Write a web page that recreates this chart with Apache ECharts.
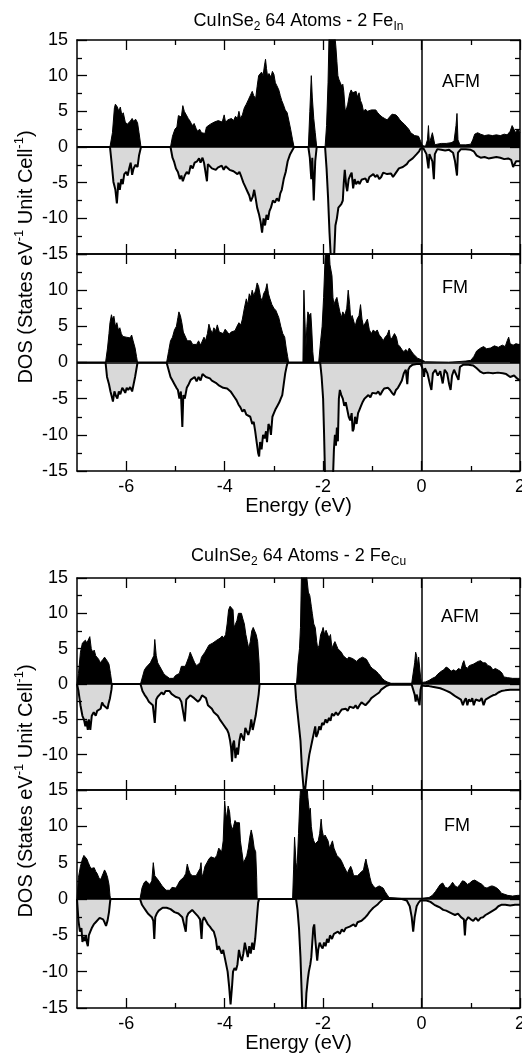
<!DOCTYPE html>
<html>
<head>
<meta charset="utf-8">
<script src="https://cdn.jsdelivr.net/npm/echarts@6/dist/echarts.min.js"></script>
<style>
html,body{margin:0;padding:0;background:#fff;}
#chart{width:522px;height:1057px;}
</style>
</head>
<body>
<div id="chart"></div>
<script>
// ---------- data: [energy (eV), DOS] ----------
var xMajorTicks = [-6, -4, -2, 0, 2];
var xMinorTicks = [-5, -3, -1, 1];
var panelLabels = ['AFM', 'FM', 'AFM', 'FM'];

var inUpAFM = [[-7,0],[-6.33,0],[-6.28,2],[-6.24,5.5],[-6.22,6.0],[-6.18,5.6],[-6.15,5.0],[-6.12,5.6],[-6.09,4.5],[-6.06,4.8],[-6.02,3.5],[-5.98,3.2],[-5.95,3.0],[-5.92,3.6],[-5.88,4.0],[-5.85,3.6],[-5.81,3.9],[-5.77,3.4],[-5.74,2.0],[-5.70,0],
[-5.10,0],[-5.06,1.5],[-5.01,2.5],[-4.97,2.8],[-4.94,4.4],[-4.91,4.6],[-4.88,4.2],[-4.85,5.8],[-4.82,5.0],[-4.78,4.8],[-4.74,4.0],[-4.70,3.6],[-4.66,3.0],[-4.62,3.3],[-4.58,2.6],[-4.55,2.2],[-4.51,2.5],[-4.47,2.0],[-4.44,2.2],[-4.40,1.9],[-4.37,2.8],[-4.33,3.0],[-4.29,3.2],[-4.25,3.4],[-4.21,3.5],[-4.17,3.3],[-4.13,3.7],[-4.09,3.6],[-4.05,3.5],[-4.01,4.5],[-3.98,3.4],[-3.94,3.8],[-3.90,3.6],[-3.86,4.0],[-3.82,3.7],[-3.78,4.3],[-3.74,4.0],[-3.71,5.0],[-3.68,4.0],[-3.64,4.5],[-3.60,5.5],[-3.56,6.0],[-3.52,6.6],[-3.48,7.2],[-3.44,7.8],[-3.41,7.2],[-3.37,6.8],[-3.34,8.5],[-3.31,10.0],[-3.28,9.8],[-3.25,10.5],[-3.22,10.0],[-3.19,11.5],[-3.17,12.3],[-3.15,11.0],[-3.13,10.0],[-3.10,10.3],[-3.06,9.8],[-3.03,10.6],[-3.00,10.2],[-2.97,9.0],[-2.94,8.6],[-2.90,8.0],[-2.87,7.2],[-2.84,6.5],[-2.81,6.0],[-2.77,5.2],[-2.73,4.8],[-2.69,3.5],[-2.66,2.5],[-2.62,1.0],[-2.59,0],
[-2.30,0],[-2.27,5],[-2.24,10.0],[-2.22,7],[-2.19,4.0],[-2.16,2.0],[-2.13,0],
[-1.96,0],[-1.93,3],[-1.90,9],[-1.88,15.5],[-1.80,17],[-1.76,15.5],[-1.74,14.0],[-1.72,12],[-1.70,10.0],[-1.68,9.5],[-1.65,9.0],[-1.62,8.5],[-1.60,8.8],[-1.58,7.8],[-1.55,5.0],[-1.52,5.5],[-1.50,6.0],[-1.46,7.5],[-1.43,8.0],[-1.40,7.6],[-1.36,7.4],[-1.33,7.8],[-1.30,7.0],[-1.27,7.6],[-1.24,6.5],[-1.21,6.0],[-1.18,5.0],[-1.14,5.3],[-1.10,5.0],[-1.06,4.9],[-1.02,5.2],[-0.98,5.0],[-0.93,5.2],[-0.89,4.8],[-0.85,4.5],[-0.80,4.2],[-0.75,4.0],[-0.70,3.8],[-0.65,4.2],[-0.60,4.6],[-0.56,4.8],[-0.52,4.5],[-0.48,4.2],[-0.44,3.8],[-0.40,3.5],[-0.35,3.2],[-0.30,2.8],[-0.26,2.5],[-0.22,2.0],[-0.18,1.8],[-0.14,1.6],[-0.10,1.8],[-0.06,1.5],[-0.02,0.8],[0.02,0.2],[0.08,0.1],[0.12,1.0],[0.14,3.0],[0.16,0.5],[0.19,0.3],[0.22,2.0],[0.25,1.8],[0.27,0.3],[0.32,0.4],[0.40,0.5],[0.50,0.5],[0.60,0.6],[0.66,0.8],[0.70,3.0],[0.72,4.7],[0.74,1.0],[0.78,0.3],[0.90,0.3],[1.00,0.4],[1.04,1.0],[1.08,1.8],[1.14,2.0],[1.20,1.8],[1.28,1.6],[1.36,1.7],[1.44,1.6],[1.52,1.7],[1.60,1.6],[1.68,1.8],[1.74,1.7],[1.80,2.2],[1.84,3.0],[1.87,2.6],[1.91,2.0],[1.95,2.5],[2.0,2.0]];

var inDnAFM = [[-7,0],[-6.33,0],[-6.30,-2],[-6.26,-4.9],[-6.22,-6],[-6.19,-7.9],[-6.16,-5.0],[-6.13,-6.0],[-6.10,-4.5],[-6.07,-5.2],[-6.04,-3.8],[-6.00,-3.5],[-5.97,-4.0],[-5.94,-3.0],[-5.91,-2.2],[-5.88,-3.9],[-5.85,-3.0],[-5.81,-2.5],[-5.77,-2.8],[-5.74,-1.2],[-5.70,0],
[-5.10,0],[-5.06,-1.5],[-5.03,-2.0],[-4.99,-3.0],[-4.95,-3.5],[-4.91,-4.5],[-4.88,-4.0],[-4.85,-4.8],[-4.81,-4.0],[-4.77,-3.5],[-4.73,-3.8],[-4.69,-2.6],[-4.65,-3.0],[-4.61,-2.2],[-4.56,-2.0],[-4.52,-1.6],[-4.49,-2.2],[-4.45,-1.5],[-4.42,-2.2],[-4.38,-2.0],[-4.36,-4.8],[-4.34,-2.4],[-4.30,-2.6],[-4.26,-3.0],[-4.22,-2.8],[-4.18,-3.2],[-4.14,-2.9],[-4.10,-3.0],[-4.06,-2.6],[-4.02,-3.2],[-3.98,-2.7],[-3.94,-2.8],[-3.90,-3.2],[-3.86,-3.0],[-3.82,-3.4],[-3.78,-3.2],[-3.74,-3.8],[-3.70,-3.5],[-3.66,-4.2],[-3.62,-5.0],[-3.58,-5.6],[-3.54,-6.2],[-3.50,-6.8],[-3.47,-7.6],[-3.43,-7.0],[-3.40,-6.0],[-3.37,-7.2],[-3.34,-8.5],[-3.30,-9.5],[-3.27,-10.5],[-3.24,-12.0],[-3.21,-10.0],[-3.18,-11.0],[-3.15,-9.5],[-3.12,-10.2],[-3.09,-9.0],[-3.06,-8.5],[-3.02,-7.5],[-2.98,-7.8],[-2.94,-7.2],[-2.90,-7.6],[-2.87,-6.5],[-2.84,-6.0],[-2.80,-4.5],[-2.76,-3.5],[-2.72,-2.0],[-2.67,-1.0],[-2.62,-0.4],[-2.59,0],
[-2.30,0],[-2.27,-1.5],[-2.24,-4.5],[-2.22,-1.5],[-2.19,-7.5],[-2.16,-2.0],[-2.13,0],
[-1.96,0],[-1.93,-3.0],[-1.90,-7.0],[-1.87,-12],[-1.84,-16],[-1.78,-16],[-1.75,-11],[-1.72,-10.0],[-1.69,-8.5],[-1.66,-8.6],[-1.63,-8.0],[-1.60,-7.5],[-1.58,-5.0],[-1.56,-3.2],[-1.53,-5.5],[-1.51,-6.2],[-1.48,-4.5],[-1.45,-4.0],[-1.42,-3.6],[-1.39,-5.8],[-1.36,-4.5],[-1.33,-5.2],[-1.29,-4.8],[-1.26,-5.2],[-1.22,-4.6],[-1.18,-4.8],[-1.14,-4.4],[-1.10,-5.0],[-1.06,-4.2],[-1.02,-4.0],[-0.98,-3.8],[-0.94,-4.2],[-0.90,-3.9],[-0.86,-4.5],[-0.82,-4.2],[-0.78,-3.6],[-0.74,-3.5],[-0.70,-3.8],[-0.66,-3.6],[-0.62,-3.7],[-0.58,-4.2],[-0.54,-3.8],[-0.50,-3.6],[-0.46,-3.0],[-0.42,-3.2],[-0.38,-2.8],[-0.34,-2.6],[-0.30,-2.4],[-0.26,-2.0],[-0.22,-1.8],[-0.18,-1.6],[-0.14,-1.4],[-0.10,-1.0],[-0.05,-0.6],[-0.02,-0.2],[0.04,-0.2],[0.10,-1.0],[0.14,-3.0],[0.16,-1.0],[0.19,-0.8],[0.22,-2.0],[0.25,-4.5],[0.27,-1.0],[0.32,-0.3],[0.40,-0.4],[0.48,-0.5],[0.56,-0.4],[0.64,-0.8],[0.68,-2.0],[0.72,-4.0],[0.74,-0.8],[0.80,-0.3],[0.90,-0.3],[1.00,-0.4],[1.06,-0.6],[1.12,-1.2],[1.20,-1.5],[1.28,-1.4],[1.36,-1.6],[1.44,-1.5],[1.52,-1.4],[1.60,-1.5],[1.68,-1.7],[1.76,-1.6],[1.82,-1.8],[1.86,-2.8],[1.88,-3.0],[1.92,-2.0],[1.96,-2.2],[2.0,-2.0]];

var inUpFM = [[-7,0],[-6.42,0],[-6.38,2.0],[-6.35,4.0],[-6.33,5.5],[-6.30,6.6],[-6.28,6.0],[-6.25,6.4],[-6.22,5.0],[-6.19,5.5],[-6.16,4.5],[-6.13,4.8],[-6.10,4.0],[-6.07,3.6],[-6.04,3.8],[-6.00,3.5],[-5.96,3.6],[-5.92,3.4],[-5.89,3.8],[-5.86,3.0],[-5.82,2.0],[-5.79,0.8],[-5.77,0],
[-5.18,0],[-5.14,1.5],[-5.10,3.0],[-5.06,3.5],[-5.02,4.5],[-4.98,5.0],[-4.95,6.2],[-4.93,7.0],[-4.90,6.5],[-4.87,5.5],[-4.84,4.2],[-4.80,4.0],[-4.76,3.0],[-4.72,3.2],[-4.69,3.0],[-4.65,2.5],[-4.61,2.6],[-4.57,2.5],[-4.53,3.0],[-4.49,2.4],[-4.45,2.6],[-4.42,3.5],[-4.39,3.0],[-4.35,4.0],[-4.32,5.3],[-4.29,4.6],[-4.25,4.0],[-4.22,4.8],[-4.18,4.4],[-4.15,5.2],[-4.11,4.2],[-4.07,4.4],[-4.03,4.0],[-3.99,4.6],[-3.95,4.5],[-3.91,3.9],[-3.87,4.2],[-3.83,4.0],[-3.79,4.4],[-3.75,5.0],[-3.71,5.5],[-3.67,5.2],[-3.64,6.0],[-3.60,7.5],[-3.56,8.8],[-3.53,8.0],[-3.50,9.5],[-3.47,9.0],[-3.44,10.0],[-3.41,9.2],[-3.37,10.0],[-3.34,11.0],[-3.31,10.5],[-3.27,9.0],[-3.24,8.5],[-3.21,9.5],[-3.17,10.0],[-3.14,10.9],[-3.11,9.5],[-3.08,8.8],[-3.04,8.0],[-3.00,7.5],[-2.96,7.2],[-2.93,7.0],[-2.90,6.2],[-2.86,5.0],[-2.82,4.0],[-2.78,3.5],[-2.75,2.0],[-2.72,0.8],[-2.70,0],
[-2.41,0],[-2.40,6],[-2.39,10.0],[-2.37,6],[-2.35,2.0],[-2.33,5.0],[-2.31,7.0],[-2.28,6.5],[-2.25,6.8],[-2.23,4.5],[-2.21,1.5],[-2.19,0],
[-2.09,0],[-2.05,3.0],[-2.02,5.0],[-1.99,9.0],[-1.96,14.5],[-1.94,16],[-1.88,16],[-1.86,13.5],[-1.82,12.0],[-1.80,9.0],[-1.78,8.0],[-1.75,8.6],[-1.72,9.0],[-1.69,8.0],[-1.66,7.0],[-1.63,6.2],[-1.60,7.0],[-1.56,6.5],[-1.52,7.5],[-1.49,10.0],[-1.46,8.0],[-1.44,6.0],[-1.41,6.5],[-1.38,6.5],[-1.35,5.0],[-1.31,6.0],[-1.27,6.5],[-1.24,8.0],[-1.21,6.0],[-1.18,5.0],[-1.14,5.5],[-1.10,6.0],[-1.06,4.5],[-1.02,4.0],[-0.98,4.5],[-0.94,4.2],[-0.90,4.5],[-0.86,3.8],[-0.82,3.5],[-0.78,3.0],[-0.74,3.5],[-0.70,3.8],[-0.66,4.5],[-0.63,3.2],[-0.59,3.5],[-0.55,4.0],[-0.51,3.5],[-0.48,2.5],[-0.44,2.2],[-0.40,1.8],[-0.36,1.5],[-0.32,1.8],[-0.28,1.5],[-0.25,2.0],[-0.21,1.8],[-0.17,1.2],[-0.13,1.0],[-0.08,0.6],[-0.04,0.4],[0.02,0.3],[0.08,0.1],[0.12,0.05],[0.55,0.05],[0.70,0.1],[0.90,0.2],[1.00,0.3],[1.06,0.8],[1.12,1.6],[1.20,2.0],[1.26,2.2],[1.32,1.9],[1.40,2.0],[1.48,2.3],[1.56,2.1],[1.64,2.4],[1.70,2.2],[1.74,3.0],[1.77,3.5],[1.80,2.6],[1.86,2.4],[1.92,2.6],[2.0,2.4]];

var inDnFM = [[-7,0],[-6.42,0],[-6.39,-2.0],[-6.35,-3.0],[-6.32,-4.0],[-6.29,-4.8],[-6.27,-5.4],[-6.24,-4.0],[-6.21,-4.6],[-6.18,-5.0],[-6.15,-4.0],[-6.12,-4.4],[-6.08,-3.5],[-6.05,-3.8],[-6.02,-4.2],[-5.99,-3.5],[-5.96,-3.8],[-5.92,-3.4],[-5.88,-4.0],[-5.85,-3.0],[-5.82,-2.0],[-5.79,-0.8],[-5.77,0],
[-5.18,0],[-5.14,-1.0],[-5.10,-2.0],[-5.06,-2.5],[-5.02,-3.0],[-4.98,-3.5],[-4.95,-3.8],[-4.92,-5.0],[-4.89,-4.0],[-4.86,-8.9],[-4.84,-4.5],[-4.81,-5.0],[-4.77,-3.5],[-4.73,-3.0],[-4.69,-2.4],[-4.65,-2.2],[-4.61,-2.0],[-4.57,-2.6],[-4.53,-2.0],[-4.49,-2.5],[-4.45,-1.6],[-4.42,-1.5],[-4.38,-2.0],[-4.34,-1.8],[-4.30,-2.2],[-4.26,-2.5],[-4.22,-2.6],[-4.18,-2.8],[-4.15,-3.0],[-4.11,-3.2],[-4.07,-3.0],[-4.03,-3.5],[-3.99,-3.3],[-3.95,-3.6],[-3.91,-3.8],[-3.88,-4.0],[-3.84,-4.2],[-3.80,-4.8],[-3.76,-5.2],[-3.72,-5.8],[-3.68,-6.2],[-3.64,-6.8],[-3.60,-6.5],[-3.56,-7.2],[-3.52,-7.0],[-3.48,-7.5],[-3.44,-8.5],[-3.41,-8.2],[-3.38,-9.5],[-3.35,-11.0],[-3.32,-12.5],[-3.30,-13.0],[-3.28,-11.0],[-3.25,-12.0],[-3.22,-10.0],[-3.19,-10.5],[-3.16,-9.5],[-3.14,-11.0],[-3.11,-8.5],[-3.08,-9.0],[-3.06,-10.0],[-3.03,-7.5],[-3.00,-7.0],[-2.97,-6.5],[-2.93,-6.0],[-2.89,-5.5],[-2.86,-5.0],[-2.83,-4.5],[-2.80,-3.0],[-2.77,-1.5],[-2.74,-0.5],[-2.72,0],
[-2.06,0],[-2.03,-2],[-2.00,-5],[-1.98,-10],[-1.96,-16],[-1.80,-16],[-1.78,-12.0],[-1.76,-10.0],[-1.74,-11.5],[-1.72,-9],[-1.70,-10.9],[-1.68,-5.0],[-1.66,-3.8],[-1.63,-4.5],[-1.60,-5.0],[-1.57,-6.0],[-1.54,-5.5],[-1.51,-6.5],[-1.48,-7.5],[-1.45,-8.0],[-1.42,-7.0],[-1.40,-9.5],[-1.38,-9.2],[-1.35,-7.5],[-1.32,-8.5],[-1.29,-7.0],[-1.26,-6.5],[-1.23,-6.0],[-1.20,-5.5],[-1.16,-5.0],[-1.12,-4.8],[-1.08,-4.5],[-1.04,-4.8],[-1.00,-4.2],[-0.96,-4.0],[-0.92,-4.3],[-0.88,-4.0],[-0.84,-4.5],[-0.80,-4.0],[-0.76,-3.6],[-0.72,-3.8],[-0.68,-3.5],[-0.64,-3.8],[-0.60,-4.2],[-0.56,-4.5],[-0.52,-3.8],[-0.48,-3.5],[-0.44,-3.0],[-0.40,-2.5],[-0.36,-1.5],[-0.32,-1.0],[-0.29,-3.0],[-0.27,-1.0],[-0.24,-0.6],[-0.18,-0.3],[-0.10,-0.2],[-0.02,-0.2],[0.03,-1.0],[0.05,-2.0],[0.07,-0.8],[0.12,-1.5],[0.17,-3.0],[0.20,-3.8],[0.23,-1.5],[0.28,-1.0],[0.33,-1.8],[0.38,-1.2],[0.43,-2.9],[0.47,-1.0],[0.52,-1.5],[0.56,-3.0],[0.59,-3.8],[0.62,-1.8],[0.66,-1.0],[0.70,-1.2],[0.75,-2.4],[0.78,-0.6],[0.85,-0.3],[0.95,-0.3],[1.05,-0.4],[1.12,-0.8],[1.20,-1.3],[1.26,-1.5],[1.35,-1.4],[1.45,-1.5],[1.55,-1.4],[1.65,-1.5],[1.72,-1.6],[1.80,-2.0],[1.88,-1.8],[1.94,-2.2],[2.0,-2.5]];

var cuUpAFM = [[-7,0],[-6.97,1.5],[-6.93,4.5],[-6.89,5.8],[-6.86,5.6],[-6.83,6.2],[-6.80,5.8],[-6.77,6.0],[-6.74,6.7],[-6.71,5.0],[-6.68,4.5],[-6.65,4.8],[-6.62,4.0],[-6.59,4.2],[-6.56,3.5],[-6.53,3.0],[-6.50,3.2],[-6.47,3.5],[-6.44,3.8],[-6.41,3.6],[-6.38,3.2],[-6.35,2.8],[-6.32,1.5],[-6.29,0],
[-5.71,0],[-5.67,1.0],[-5.63,2.0],[-5.59,2.4],[-5.55,2.6],[-5.51,3.0],[-5.47,2.8],[-5.44,4.0],[-5.42,6.3],[-5.39,4.0],[-5.36,3.0],[-5.32,2.5],[-5.28,2.0],[-5.24,1.5],[-5.20,1.2],[-5.16,1.0],[-5.12,0.8],[-5.08,0.9],[-5.04,0.8],[-5.00,1.2],[-4.96,1.0],[-4.92,1.5],[-4.88,2.5],[-4.84,2.6],[-4.80,2.5],[-4.76,2.4],[-4.73,3.8],[-4.70,4.5],[-4.67,4.7],[-4.64,3.5],[-4.61,3.0],[-4.57,2.6],[-4.53,2.5],[-4.50,3.0],[-4.47,3.8],[-4.44,4.0],[-4.40,4.5],[-4.36,5.0],[-4.32,5.5],[-4.28,5.6],[-4.24,5.8],[-4.20,6.0],[-4.16,6.2],[-4.12,6.0],[-4.09,6.5],[-4.05,6.8],[-4.02,6.5],[-3.98,7.0],[-3.95,8.5],[-3.92,10.5],[-3.89,11.0],[-3.86,10.8],[-3.83,10.5],[-3.81,8.0],[-3.78,8.5],[-3.75,9.0],[-3.72,10.0],[-3.69,9.8],[-3.66,10.0],[-3.63,9.2],[-3.60,8.5],[-3.57,7.0],[-3.54,6.0],[-3.51,5.0],[-3.48,6.0],[-3.45,7.5],[-3.42,8.0],[-3.39,7.5],[-3.36,7.0],[-3.33,6.0],[-3.30,3.0],[-3.29,0],
[-2.54,0],[-2.51,3.0],[-2.48,5.0],[-2.46,8],[-2.44,15.5],[-2.38,16],[-2.33,15.0],[-2.30,13.0],[-2.27,12.5],[-2.24,11.0],[-2.22,10.0],[-2.19,8.5],[-2.16,8.0],[-2.13,6.0],[-2.11,5.0],[-2.08,5.5],[-2.05,7.0],[-2.02,7.5],[-2.00,8.0],[-1.97,7.0],[-1.94,7.6],[-1.91,7.5],[-1.88,6.5],[-1.85,7.0],[-1.82,5.0],[-1.79,5.6],[-1.76,6.0],[-1.73,5.5],[-1.70,5.0],[-1.67,5.2],[-1.63,4.5],[-1.59,4.0],[-1.55,4.2],[-1.51,3.5],[-1.48,3.8],[-1.44,4.0],[-1.40,3.6],[-1.36,3.5],[-1.32,3.2],[-1.28,3.5],[-1.24,3.6],[-1.20,3.8],[-1.16,3.6],[-1.12,3.5],[-1.08,3.0],[-1.04,2.5],[-1.00,2.2],[-0.96,2.0],[-0.92,1.8],[-0.88,1.5],[-0.84,1.2],[-0.80,0.8],[-0.75,0.5],[-0.70,0.3],[-0.62,0.1],[-0.55,0.1],[-0.40,0.1],[-0.20,0.1],[-0.16,0.3],[-0.14,3.0],[-0.12,4.5],[-0.10,4.0],[-0.08,2.5],[-0.06,3.8],[-0.04,4.0],[-0.02,1.0],[0.00,0.2],[0.08,0.3],[0.15,0.5],[0.22,0.8],[0.28,1.0],[0.33,1.4],[0.40,1.8],[0.45,2.0],[0.50,2.4],[0.55,2.2],[0.60,1.8],[0.65,2.0],[0.70,1.8],[0.75,2.2],[0.80,2.0],[0.84,3.0],[0.86,3.3],[0.89,2.5],[0.93,2.2],[0.97,2.6],[1.01,2.4],[1.05,2.8],[1.10,3.0],[1.15,3.2],[1.20,3.3],[1.25,3.0],[1.30,3.0],[1.35,2.6],[1.40,2.5],[1.45,2.0],[1.50,2.2],[1.54,2.0],[1.60,1.8],[1.64,1.5],[1.67,1.0],[1.75,0.9],[1.85,0.8],[1.95,0.8],[2.0,0.8]];

var cuDnAFM = [[-7,0],[-6.97,-1.0],[-6.93,-3.0],[-6.89,-4.5],[-6.86,-5.0],[-6.83,-6.0],[-6.81,-5.2],[-6.78,-6.5],[-6.76,-5.0],[-6.73,-6.5],[-6.70,-4.5],[-6.66,-4.0],[-6.62,-4.5],[-6.59,-3.8],[-6.55,-4.0],[-6.52,-3.5],[-6.49,-2.6],[-6.46,-3.0],[-6.42,-3.2],[-6.38,-3.5],[-6.36,-2.8],[-6.33,-2.0],[-6.30,-0.8],[-6.29,0],
[-5.71,0],[-5.67,-1.0],[-5.63,-1.5],[-5.58,-2.0],[-5.54,-2.5],[-5.50,-2.6],[-5.46,-3.0],[-5.42,-5.5],[-5.39,-2.2],[-5.36,-1.8],[-5.32,-1.5],[-5.28,-1.2],[-5.24,-1.5],[-5.20,-1.0],[-5.16,-1.2],[-5.12,-1.0],[-5.08,-1.4],[-5.04,-1.5],[-5.00,-1.8],[-4.96,-2.0],[-4.92,-2.0],[-4.88,-2.5],[-4.84,-2.5],[-4.81,-5.3],[-4.78,-2.2],[-4.74,-2.0],[-4.70,-1.6],[-4.66,-1.5],[-4.62,-2.0],[-4.58,-1.8],[-4.54,-2.5],[-4.50,-2.2],[-4.46,-1.6],[-4.42,-1.5],[-4.38,-2.0],[-4.34,-3.0],[-4.30,-3.2],[-4.26,-3.5],[-4.22,-4.0],[-4.18,-4.2],[-4.14,-4.5],[-4.10,-5.0],[-4.06,-5.2],[-4.02,-5.8],[-3.98,-6.2],[-3.95,-6.5],[-3.92,-7.0],[-3.89,-8.0],[-3.87,-9.0],[-3.85,-11.0],[-3.83,-8.5],[-3.81,-8.0],[-3.78,-10.5],[-3.75,-9.0],[-3.73,-10.0],[-3.70,-8.0],[-3.67,-7.0],[-3.64,-7.5],[-3.61,-8.0],[-3.58,-6.2],[-3.55,-6.0],[-3.52,-7.2],[-3.49,-6.5],[-3.46,-5.0],[-3.43,-6.5],[-3.40,-5.5],[-3.37,-4.5],[-3.34,-3.0],[-3.31,-1.5],[-3.29,0],
[-2.57,0],[-2.55,-2.0],[-2.52,-4.0],[-2.49,-6.0],[-2.46,-8.0],[-2.43,-12.0],[-2.40,-14.5],[-2.38,-16],[-2.35,-14.0],[-2.32,-12.0],[-2.30,-11.0],[-2.28,-10.0],[-2.25,-9.0],[-2.22,-8.0],[-2.19,-7.0],[-2.16,-6.0],[-2.14,-7.5],[-2.11,-7.0],[-2.08,-6.0],[-2.05,-6.5],[-2.02,-5.5],[-1.99,-5.8],[-1.95,-5.0],[-1.92,-5.5],[-1.88,-4.8],[-1.85,-5.2],[-1.82,-4.2],[-1.78,-4.5],[-1.74,-4.0],[-1.70,-4.4],[-1.66,-4.0],[-1.62,-3.6],[-1.58,-3.8],[-1.54,-3.5],[-1.50,-3.8],[-1.46,-3.2],[-1.42,-3.0],[-1.38,-3.4],[-1.34,-3.0],[-1.30,-3.5],[-1.26,-3.0],[-1.22,-2.6],[-1.18,-2.5],[-1.14,-3.0],[-1.10,-2.8],[-1.06,-2.4],[-1.02,-2.0],[-0.98,-1.8],[-0.94,-1.6],[-0.90,-1.4],[-0.86,-1.2],[-0.82,-0.8],[-0.78,-0.6],[-0.72,-0.3],[-0.65,-0.1],[-0.55,-0.1],[-0.40,-0.1],[-0.20,-0.1],[-0.16,-0.3],[-0.14,-1.5],[-0.12,-2.5],[-0.10,-1.5],[-0.08,-2.0],[-0.06,-2.5],[-0.04,-3.0],[-0.02,-0.8],[0.00,-0.2],[0.08,-0.3],[0.15,-0.3],[0.22,-0.4],[0.30,-0.5],[0.38,-0.6],[0.45,-0.8],[0.52,-1.0],[0.58,-1.2],[0.64,-1.5],[0.70,-1.8],[0.75,-2.0],[0.80,-2.2],[0.84,-3.0],[0.87,-2.4],[0.90,-2.0],[0.93,-3.0],[0.96,-2.2],[1.00,-2.5],[1.03,-2.0],[1.06,-3.0],[1.10,-2.2],[1.14,-2.0],[1.18,-2.4],[1.22,-2.0],[1.26,-3.0],[1.30,-2.2],[1.35,-2.0],[1.40,-1.8],[1.45,-1.6],[1.50,-1.5],[1.56,-1.2],[1.62,-1.0],[1.70,-0.9],[1.80,-0.8],[1.90,-0.8],[2.0,-0.8]];

var cuUpFM = [[-7,0],[-6.97,3.0],[-6.93,4.5],[-6.89,5.5],[-6.86,6.0],[-6.83,5.8],[-6.80,5.5],[-6.77,5.0],[-6.74,4.5],[-6.71,4.2],[-6.68,4.0],[-6.65,4.3],[-6.62,3.8],[-6.59,3.5],[-6.56,3.0],[-6.53,2.6],[-6.50,3.0],[-6.47,3.5],[-6.44,4.0],[-6.41,3.6],[-6.38,3.0],[-6.35,2.0],[-6.33,0.5],[-6.32,0],
[-5.72,0],[-5.68,1.5],[-5.64,2.2],[-5.60,2.5],[-5.56,2.4],[-5.52,2.0],[-5.48,2.5],[-5.45,5.0],[-5.42,3.2],[-5.39,3.0],[-5.35,2.6],[-5.31,2.4],[-5.27,1.8],[-5.23,1.5],[-5.19,1.2],[-5.15,1.3],[-5.11,1.2],[-5.07,1.6],[-5.03,1.8],[-4.99,1.5],[-4.95,2.0],[-4.91,2.5],[-4.87,2.6],[-4.83,3.0],[-4.79,3.5],[-4.76,4.8],[-4.73,4.0],[-4.70,3.5],[-4.66,3.2],[-4.62,3.0],[-4.58,3.2],[-4.54,3.0],[-4.50,4.2],[-4.48,5.0],[-4.46,3.0],[-4.43,3.6],[-4.40,4.5],[-4.36,5.0],[-4.32,5.5],[-4.28,5.8],[-4.24,6.0],[-4.20,5.6],[-4.16,6.0],[-4.12,7.0],[-4.09,6.8],[-4.06,6.5],[-4.03,8.0],[-4.00,13.5],[-3.98,12.0],[-3.96,11.0],[-3.93,12.8],[-3.90,12.0],[-3.88,10.5],[-3.85,9.5],[-3.82,10.0],[-3.79,10.8],[-3.76,10.5],[-3.73,10.7],[-3.70,10.5],[-3.68,8.0],[-3.65,6.5],[-3.62,5.0],[-3.58,5.5],[-3.55,6.0],[-3.52,7.0],[-3.49,8.5],[-3.46,9.5],[-3.43,8.5],[-3.40,7.0],[-3.37,6.5],[-3.35,3.0],[-3.34,0],
[-2.62,0],[-2.60,4.0],[-2.58,8.5],[-2.55,5.0],[-2.53,4.0],[-2.50,9.0],[-2.47,14.0],[-2.45,16],[-2.33,16],[-2.31,14.0],[-2.28,12.0],[-2.26,12.5],[-2.24,10.0],[-2.21,8.5],[-2.19,8.0],[-2.16,7.6],[-2.13,7.5],[-2.10,8.0],[-2.07,9.0],[-2.04,11.0],[-2.02,9.5],[-1.99,8.5],[-1.96,8.8],[-1.93,9.0],[-1.90,8.0],[-1.87,7.0],[-1.84,7.5],[-1.81,8.0],[-1.78,7.0],[-1.75,6.5],[-1.72,6.0],[-1.68,5.8],[-1.65,5.5],[-1.61,5.0],[-1.58,4.5],[-1.54,4.0],[-1.51,3.5],[-1.48,4.0],[-1.44,4.5],[-1.41,4.0],[-1.38,3.2],[-1.34,3.0],[-1.30,3.2],[-1.26,3.5],[-1.22,3.3],[-1.18,4.0],[-1.15,5.0],[-1.13,5.5],[-1.11,4.8],[-1.08,4.0],[-1.05,3.0],[-1.02,2.2],[-0.98,1.8],[-0.94,1.5],[-0.90,1.6],[-0.86,1.8],[-0.82,1.8],[-0.78,1.5],[-0.74,1.0],[-0.70,0.6],[-0.66,0.2],[-0.62,0.1],[-0.40,0.1],[0.0,0.1],[0.15,0.2],[0.22,0.5],[0.28,1.0],[0.33,1.5],[0.38,2.0],[0.43,2.2],[0.48,1.6],[0.53,1.5],[0.58,1.8],[0.63,2.3],[0.68,1.8],[0.73,1.6],[0.78,2.0],[0.83,2.5],[0.88,2.4],[0.93,2.0],[0.98,2.2],[1.03,2.5],[1.08,2.6],[1.13,2.4],[1.18,2.2],[1.23,2.0],[1.28,1.6],[1.33,1.5],[1.38,1.7],[1.43,1.8],[1.48,1.7],[1.53,1.5],[1.58,1.2],[1.62,0.8],[1.66,0.6],[1.75,0.5],[1.85,0.4],[1.95,0.5],[2.0,0.5]];

var cuDnFM = [[-7,0],[-6.97,-3.0],[-6.94,-4.5],[-6.91,-4.0],[-6.89,-5.9],[-6.86,-5.2],[-6.84,-5.8],[-6.82,-5.0],[-6.80,-6.0],[-6.78,-6.5],[-6.76,-5.0],[-6.73,-4.5],[-6.70,-4.0],[-6.66,-3.5],[-6.62,-3.2],[-6.58,-3.0],[-6.54,-2.6],[-6.50,-2.5],[-6.47,-2.8],[-6.44,-3.2],[-6.41,-3.7],[-6.38,-3.0],[-6.35,-1.8],[-6.33,-0.5],[-6.32,0],
[-5.72,0],[-5.68,-0.8],[-5.64,-1.2],[-5.60,-1.6],[-5.56,-2.0],[-5.52,-2.2],[-5.48,-2.5],[-5.45,-3.0],[-5.43,-5.5],[-5.41,-2.5],[-5.38,-2.0],[-5.34,-1.6],[-5.30,-1.5],[-5.26,-1.2],[-5.22,-1.0],[-5.18,-1.2],[-5.14,-1.0],[-5.10,-1.4],[-5.06,-1.5],[-5.02,-1.8],[-4.98,-1.6],[-4.94,-2.0],[-4.90,-2.2],[-4.86,-2.5],[-4.82,-2.4],[-4.79,-4.5],[-4.77,-2.5],[-4.74,-2.0],[-4.70,-1.8],[-4.66,-1.5],[-4.62,-1.8],[-4.58,-2.0],[-4.54,-2.4],[-4.50,-2.8],[-4.47,-5.5],[-4.45,-3.0],[-4.42,-2.5],[-4.38,-3.0],[-4.34,-3.5],[-4.30,-3.8],[-4.26,-4.2],[-4.22,-4.5],[-4.18,-5.5],[-4.15,-7.0],[-4.12,-6.5],[-4.09,-7.0],[-4.06,-7.5],[-4.03,-7.0],[-4.00,-8.0],[-3.97,-9.0],[-3.94,-10.0],[-3.91,-12.0],[-3.88,-14.5],[-3.85,-12.0],[-3.83,-10.0],[-3.80,-9.5],[-3.77,-9.8],[-3.74,-9.0],[-3.71,-7.0],[-3.68,-8.0],[-3.65,-8.5],[-3.62,-7.5],[-3.59,-6.0],[-3.56,-7.0],[-3.53,-8.0],[-3.50,-6.5],[-3.47,-7.5],[-3.44,-6.0],[-3.41,-7.0],[-3.38,-5.5],[-3.35,-3.0],[-3.32,-0.5],[-3.30,0],
[-2.55,0],[-2.52,-1.5],[-2.49,-4.0],[-2.46,-8.0],[-2.44,-12.0],[-2.42,-16],[-2.36,-16],[-2.34,-13.0],[-2.31,-11.0],[-2.29,-10.0],[-2.26,-9.0],[-2.24,-8.0],[-2.22,-6.0],[-2.20,-4.0],[-2.18,-3.5],[-2.16,-5.5],[-2.14,-7.0],[-2.12,-8.5],[-2.10,-7.0],[-2.07,-6.0],[-2.04,-6.5],[-2.01,-6.8],[-1.98,-6.0],[-1.95,-6.5],[-1.92,-5.5],[-1.89,-6.0],[-1.86,-5.0],[-1.82,-5.5],[-1.78,-4.8],[-1.74,-5.0],[-1.70,-4.5],[-1.66,-4.8],[-1.62,-4.2],[-1.58,-4.5],[-1.54,-4.0],[-1.50,-4.2],[-1.46,-3.8],[-1.42,-4.0],[-1.38,-3.5],[-1.34,-3.8],[-1.30,-3.2],[-1.26,-3.4],[-1.22,-3.0],[-1.18,-2.8],[-1.14,-2.5],[-1.10,-2.2],[-1.06,-1.8],[-1.02,-1.5],[-0.98,-1.2],[-0.94,-1.0],[-0.90,-0.8],[-0.86,-0.5],[-0.82,-0.3],[-0.78,0],[-0.40,0],[-0.30,-0.2],[-0.24,-1.0],[-0.20,-2.5],[-0.17,-4.5],[-0.14,-2.5],[-0.10,-1.0],[-0.06,-0.5],[-0.02,-0.2],[0.02,-0.1],[0.10,-0.2],[0.18,-0.4],[0.26,-0.8],[0.32,-1.0],[0.38,-1.2],[0.44,-1.5],[0.50,-1.6],[0.56,-1.8],[0.62,-2.0],[0.68,-2.2],[0.74,-2.0],[0.80,-2.5],[0.86,-2.8],[0.88,-5.0],[0.90,-3.0],[0.95,-2.5],[1.00,-2.8],[1.05,-3.0],[1.10,-2.6],[1.15,-3.0],[1.20,-2.6],[1.25,-2.5],[1.30,-2.2],[1.35,-2.0],[1.40,-1.8],[1.45,-1.6],[1.50,-1.4],[1.56,-1.0],[1.62,-0.8],[1.70,-0.8],[1.80,-0.9],[1.90,-0.8],[2.0,-0.8]];

var upSeries = [inUpAFM, inUpFM, cuUpAFM, cuUpFM];
var dnSeries = [inDnAFM, inDnFM, cuDnAFM, cuDnFM];

// ---------- layout ----------
var FONT = 'Liberation Sans, Arial, Helvetica, sans-serif';
var grids = [
  {left: 77, top: 40,  width: 443, height: 214, outerBoundsMode: 'none', containLabel: false},
  {left: 77, top: 254, width: 443, height: 217, outerBoundsMode: 'none', containLabel: false},
  {left: 77, top: 578, width: 443, height: 212, outerBoundsMode: 'none', containLabel: false},
  {left: 77, top: 790, width: 443, height: 218, outerBoundsMode: 'none', containLabel: false}
];
var showXLabels = [false, true, false, true];
var hideYLabel = [null, 15, -15, null];

var xAxes = [], yAxes = [], series = [];
var black = '#000';
grids.forEach(function (g, i) {
  ['bottom', 'top'].forEach(function (pos) {
    var isBottom = pos === 'bottom';
    xAxes.push({
      type: 'value', gridIndex: i, position: pos, min: -7, max: 2, interval: 1, z: 5,
      axisLine: {show: true, onZero: false, lineStyle: {color: black, width: 1.5}},
      axisTick: {show: true, inside: true, length: 10, customValues: xMajorTicks, lineStyle: {color: black, width: 1.3}},
      axisLabel: {show: isBottom && showXLabels[i], customValues: xMajorTicks, color: black, fontSize: 18, fontFamily: FONT, margin: 7},
      splitLine: {show: false},
      name: (isBottom && showXLabels[i]) ? 'Energy (eV)' : '',
      nameLocation: 'middle', nameGap: 24,
      nameTextStyle: {color: black, fontSize: 20, fontFamily: FONT}
    });
    xAxes.push({
      type: 'value', gridIndex: i, position: pos, min: -7, max: 2, interval: 1, z: 5,
      axisLine: {show: false, onZero: false},
      axisTick: {show: true, inside: true, length: 5, customValues: xMinorTicks, lineStyle: {color: black, width: 1.3}},
      axisLabel: {show: false},
      splitLine: {show: false}
    });
  });
  ['left', 'right'].forEach(function (pos) {
    var isLeft = pos === 'left';
    yAxes.push({
      type: 'value', gridIndex: i, position: pos, min: -15, max: 15, interval: 5, z: 5,
      axisLine: {show: true, onZero: false, lineStyle: {color: black, width: 1.5}},
      axisTick: {show: true, inside: true, length: 10, lineStyle: {color: black, width: 1.3}},
      minorTick: {show: true, splitNumber: 2, length: 5, lineStyle: {color: black, width: 1.3}},
      axisLabel: {
        show: isLeft, color: black, fontSize: 18, fontFamily: FONT, margin: 9,
        formatter: function (v) { return v === hideYLabel[i] ? '' : String(v); }
      },
      splitLine: {show: false}
    });
  });
  var xi = i * 4, yi = i * 2;
  series.push({
    type: 'line', xAxisIndex: xi, yAxisIndex: yi, data: upSeries[i], symbol: 'none',
    lineStyle: {color: black, width: 1}, areaStyle: {color: black, opacity: 1}, z: 2, clip: true
  });
  series.push({
    type: 'line', xAxisIndex: xi, yAxisIndex: yi, data: dnSeries[i], symbol: 'none',
    lineStyle: {color: black, width: 2}, areaStyle: {color: '#d9d9d9', opacity: 1}, z: 2, clip: true
  });
  series.push({
    type: 'line', xAxisIndex: xi, yAxisIndex: yi, data: [], symbol: 'none', z: 4,
    markLine: {
      silent: true, symbol: ['none', 'none'], label: {show: false}, animation: false,
      lineStyle: {color: black, width: 1.5, type: 'solid'},
      data: [{xAxis: 0}, {yAxis: 0}]
    }
  });
});

var titleRich = {
  m: {fontSize: 18, fontFamily: FONT, color: black, lineHeight: 24},
  s: {fontSize: 12, fontFamily: FONT, color: black, lineHeight: 12, verticalAlign: 'bottom'}
};
var ylabRich = {
  m: {fontSize: 20, fontFamily: FONT, color: black, lineHeight: 26},
  p: {fontSize: 13, fontFamily: FONT, color: black, lineHeight: 13, verticalAlign: 'top'}
};
var labelPos = [[461, 82], [455, 288], [460, 617], [457, 826]];

var graphics = [
  {type: 'text', x: 298.5, y: 21, style: {text: '{m|CuInSe}{s|2}{m| 64 Atoms - 2 Fe}{s|In}', rich: titleRich, align: 'center', verticalAlign: 'middle'}},
  {type: 'text', x: 298.5, y: 556, style: {text: '{m|CuInSe}{s|2}{m| 64 Atoms - 2 Fe}{s|Cu}', rich: titleRich, align: 'center', verticalAlign: 'middle'}},
  {type: 'text', x: 26, y: 257, rotation: Math.PI / 2, style: {text: '{m|DOS (States eV}{p|-1}{m| Unit Cell}{p|-1}{m|)}', rich: ylabRich, align: 'center', verticalAlign: 'middle'}},
  {type: 'text', x: 26, y: 791, rotation: Math.PI / 2, style: {text: '{m|DOS (States eV}{p|-1}{m| Unit Cell}{p|-1}{m|)}', rich: ylabRich, align: 'center', verticalAlign: 'middle'}}
];
panelLabels.forEach(function (t, i) {
  graphics.push({type: 'text', x: labelPos[i][0], y: labelPos[i][1], z: 10,
    style: {text: t, fontSize: 18, fontFamily: FONT, fill: black, align: 'center', verticalAlign: 'middle'}});
});

var chart = echarts.init(document.getElementById('chart'), null, {renderer: 'canvas'});
chart.setOption({
  animation: false,
  backgroundColor: '#fff',
  grid: grids,
  xAxis: xAxes,
  yAxis: yAxes,
  series: series,
  graphic: graphics
});
</script>
</body>
</html>
